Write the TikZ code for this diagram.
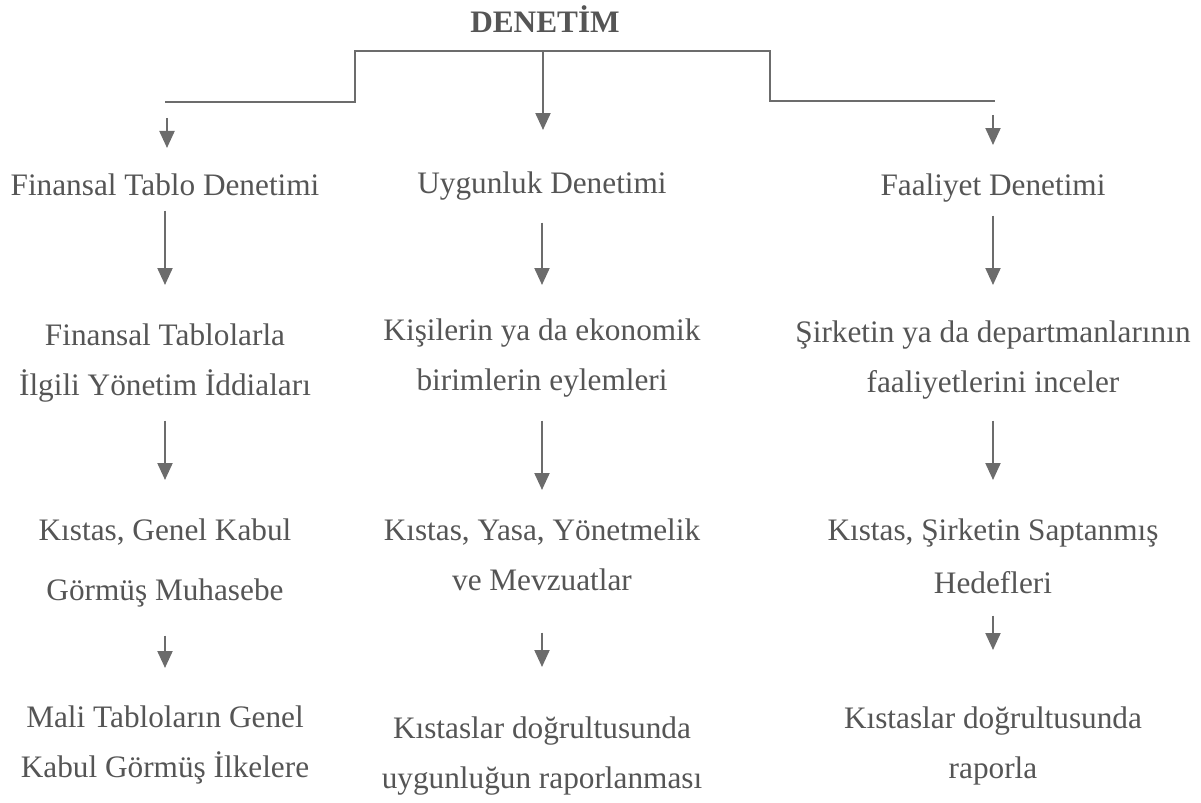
\documentclass[tikz,border=0pt]{standalone}
\usepackage{fontspec}
\setmainfont{Liberation Serif}
\usetikzlibrary{arrows.meta}
\definecolor{txtgray}{HTML}{555555}
\definecolor{linegray}{HTML}{6C6C6C}
\tikzset{
  lbl/.style={inner sep=0pt, anchor=north, align=center, text=txtgray,
    font=\fontsize{17.8}{28.45}\selectfont},
  line/.style={draw=linegray, line width=1.2pt},
  arr/.style={line, -{Triangle[width=0.3cm, length=0.34cm]}}
}
\begin{document}
\begin{tikzpicture}[x=0.02cm, y=-0.02cm]
  \useasboundingbox (0,0) rectangle (1201,803);
  \node[lbl, anchor=base, font=\fontsize{17.8}{28.45}\selectfont\bfseries] (den) at (545,33) {DENET\.{I}M};
  % columns
  \node[lbl] (f1) at (165,160) {\strut Finansal Tablo Denetimi};
  \node[lbl] (f2) at (165,310) {\strut Finansal Tablolarla\\\strut İlgili Yönetim İddiaları};
  \node[lbl] (f3) at (165,505) {\strut Kıstas, Genel Kabul\\[0.2cm]\strut Görmüş Muhasebe};
  \node[lbl] (f4) at (165,692) {\strut Mali Tabloların Genel\\\strut Kabul Görmüş İlkelere};
  \node[lbl] (u1) at (542,158) {\strut Uygunluk Denetimi};
  \node[lbl] (u2) at (542,305) {\strut Kişilerin ya da ekonomik\\\strut birimlerin eylemleri};
  \node[lbl] (u3) at (542,505) {\strut Kıstas, Yasa, Yönetmelik\\\strut ve Mevzuatlar};
  \node[lbl] (u4) at (542,703) {\strut Kıstaslar doğrultusunda\\\strut uygunluğun raporlanması};
  \node[lbl] (a1) at (993,160) {\strut Faaliyet Denetimi};
  \node[lbl] (a2) at (993,307) {\strut Şirketin ya da departmanlarının\\\strut faaliyetlerini inceler};
  \node[lbl] (a3) at (993,505) {\strut Kıstas, Şirketin Saptanmış\\[0.06cm]\strut Hedefleri};
  \node[lbl] (a4) at (993,693) {\strut Kıstaslar doğrultusunda\\\strut raporla};
  % top branches
  \coordinate (bl) at (355,51);
  \coordinate (br) at (770,51);
  \coordinate (bm) at (543,51);
  \coordinate (el) at (165,102);
  \coordinate (er) at (995,101);
  \coordinate (sl) at (167,118);
  \coordinate (sr) at (993,115);
  \draw[line] (el) -| (bl) -- (br) |- (er);
  \draw[arr, shorten >=0.56cm] (bm) -- (bm |- u1.north);
  \draw[arr, shorten >=0.24cm] (sl) -- (sl |- f1.north);
  \draw[arr, shorten >=0.3cm] (sr) -- (sr |- a1.north);
  % arrows in columns
  \draw[arr, shorten <=0cm, shorten >=0.5cm] (f1) -- (f2);
  \draw[arr, shorten <=0.2cm, shorten >=0.5cm] (f2) -- (f3);
  \draw[arr, shorten <=0.4cm, shorten >=0.48cm] (f3) -- (f4);
  \draw[arr, shorten <=0.28cm, shorten >=0.4cm] (u1) -- (u2);
  \draw[arr, shorten <=0.3cm, shorten >=0.3cm] (u2) -- (u3);
  \draw[arr, shorten <=0.54cm, shorten >=0.72cm] (u3) -- (u4);
  \draw[arr, shorten <=0.1cm, shorten >=0.44cm] (a1) -- (a2);
  \draw[arr, shorten <=0.26cm, shorten >=0.5cm] (a2) -- (a3);
  \draw[arr, shorten <=0.14cm, shorten >=0.86cm] (a3) -- (a4);
\end{tikzpicture}
\end{document}
